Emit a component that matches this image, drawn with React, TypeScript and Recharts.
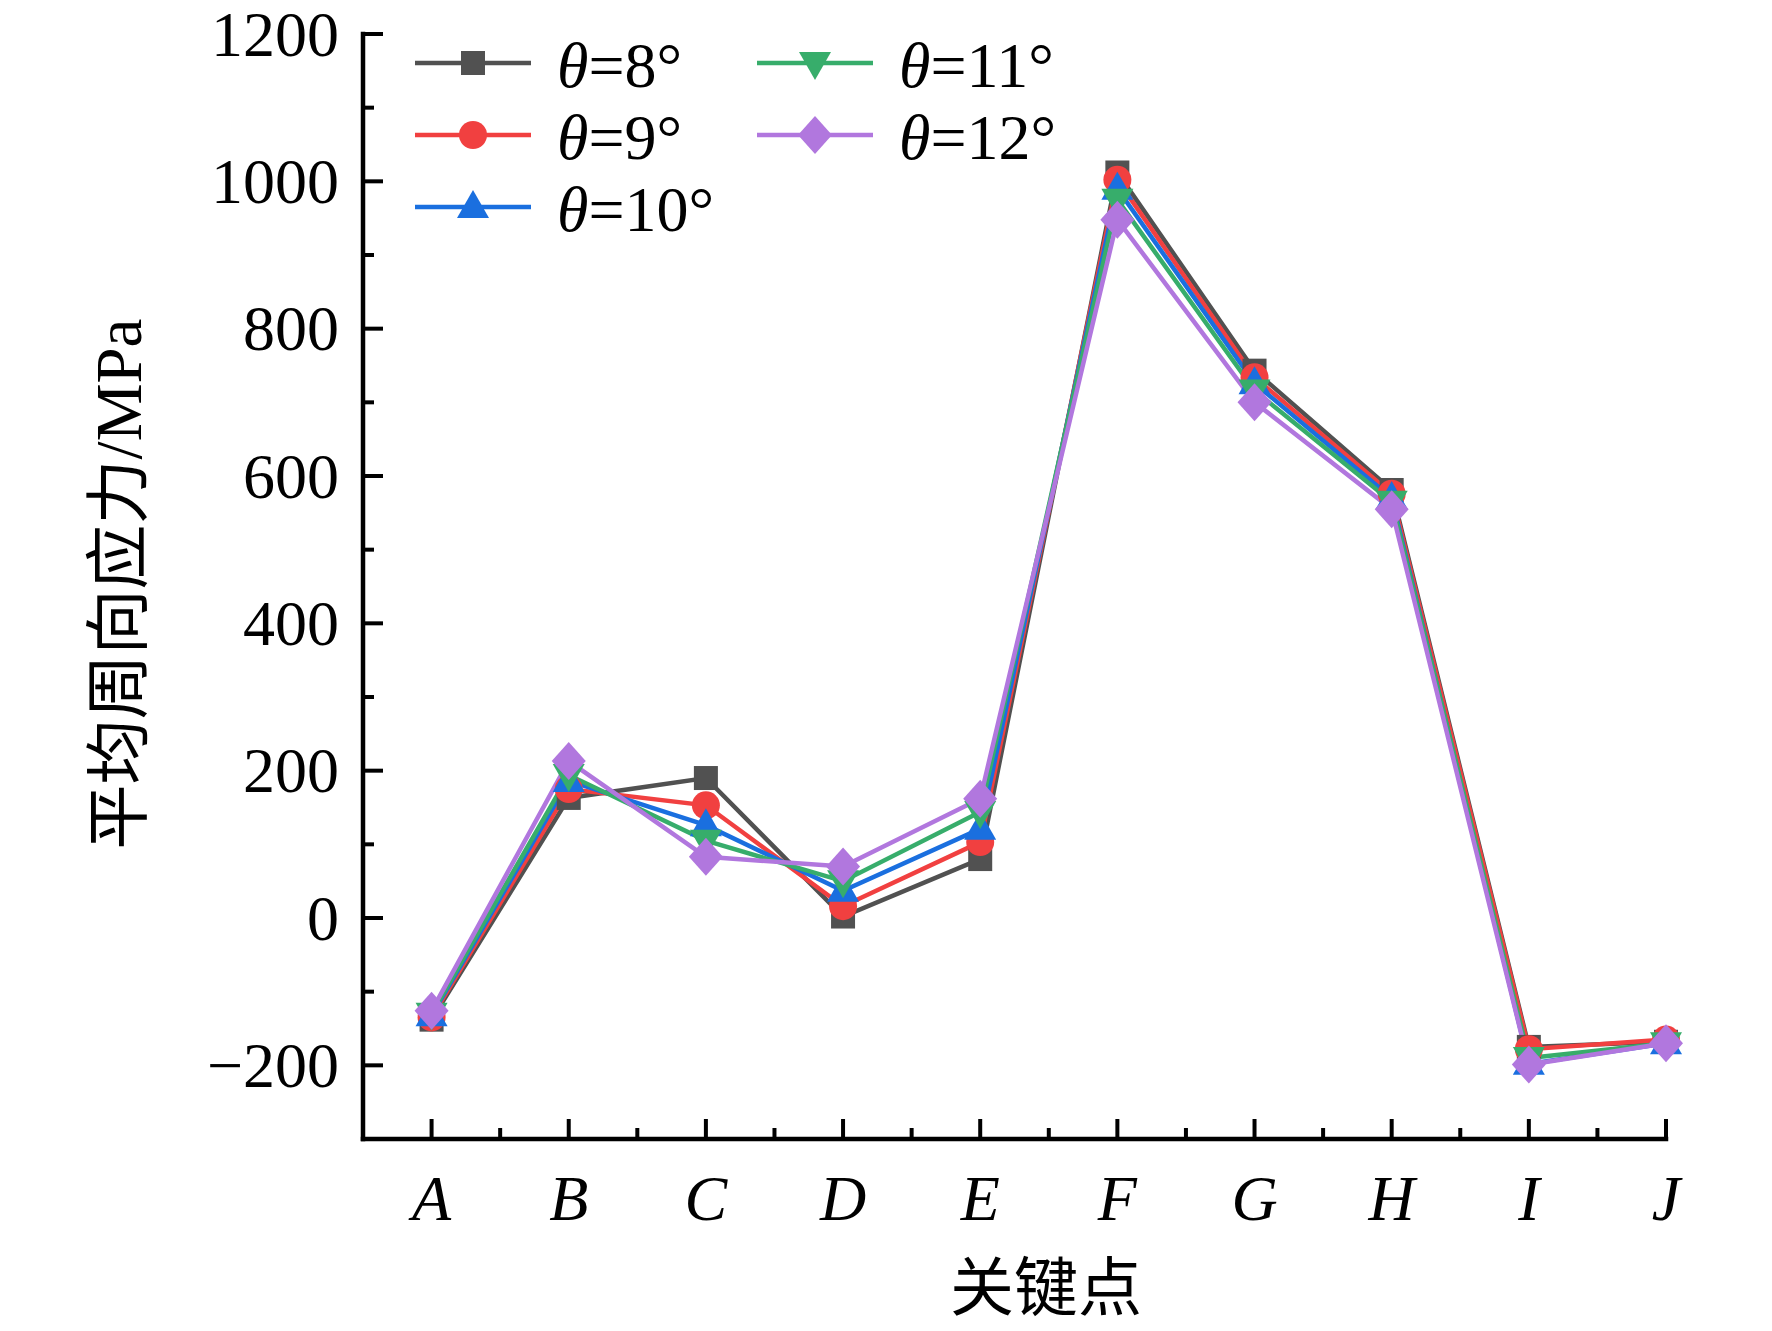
import React from 'react';
import { LineChart, Line, XAxis, YAxis, Legend } from 'recharts';

const categories = ['A', 'B', 'C', 'D', 'E', 'F', 'G', 'H', 'I', 'J'];

const theta8 = [-138, 163, 190, 2, 80, 1012, 743, 581, -175, -168];
const theta9 = [-135, 175, 153, 16, 103, 1002, 734, 576, -178, -165];
const theta10 = [-132, 186, 126, 37, 121, 990, 726, 570, -198, -170];
const theta11 = [-130, 194, 105, 50, 144, 975, 716, 565, -190, -170];
const theta12 = [-126, 213, 83, 70, 162, 948, 700, 555, -199, -170];

const seriesNames = ['8°', '9°', '10°', '11°', '12°'];
const seriesKeys = ['t8', 't9', 't10', 't11', 't12'];
const seriesColors = ['#515151', '#F14040', '#1A6FDF', '#37AD6B', '#B177DE'];
const seriesShapes = ['square', 'circle', 'triangle', 'triangleDown', 'diamond'];

const xTicks = [1, 1.5, 2, 2.5, 3, 3.5, 4, 4.5, 5, 5.5, 6, 6.5, 7, 7.5, 8, 8.5, 9, 9.5, 10];
const yTicks = [-200, -100, 0, 100, 200, 300, 400, 500, 600, 700, 800, 900, 1000, 1100, 1200];

const data = categories.map((c, i) => ({
  x: i + 1,
  name: c,
  t8: theta8[i],
  t9: theta9[i],
  t10: theta10[i],
  t11: theta11[i],
  t12: theta12[i],
}));

const serif = "'Liberation Serif', 'Times New Roman', 'Noto Sans CJK SC', serif";

function Marker({ shape, cx, cy, color }: { shape: string; cx: number; cy: number; color: string }) {
  switch (shape) {
    case 'square':
      return <rect x={cx - 12} y={cy - 12} width={24} height={24} fill={color} />;
    case 'circle':
      return <circle cx={cx} cy={cy} r={14} fill={color} />;
    case 'triangle':
      return <path d={`M${cx},${cy - 17}L${cx + 16},${cy + 11}L${cx - 16},${cy + 11}Z`} fill={color} />;
    case 'triangleDown':
      return <path d={`M${cx},${cy + 17}L${cx + 16},${cy - 11}L${cx - 16},${cy - 11}Z`} fill={color} />;
    default:
      return <path d={`M${cx},${cy - 19}L${cx + 17},${cy}L${cx},${cy + 19}L${cx - 17},${cy}Z`} fill={color} />;
  }
}

function XTick(props: any) {
  const { x, y, payload } = props;
  const v = payload.value;
  const major = Number.isInteger(v);
  return (
    <g>
      <line x1={x} x2={x} y1={y} y2={y - (major ? 20 : 11)} stroke="#000" strokeWidth={4} />
      {major && (
        <text x={x} y={y + 81} textAnchor="middle" fontSize={64} fontStyle="italic" fontFamily={serif} fill="#000">
          {categories[v - 1]}
        </text>
      )}
    </g>
  );
}

function YTick(props: any) {
  const { x, y, payload } = props;
  const v = payload.value;
  const major = v % 200 === 0;
  return (
    <g>
      <line x1={x} x2={x + (major ? 20 : 11)} y1={y} y2={y} stroke="#000" strokeWidth={4} />
      {major && (
        <text x={x - 24} y={y} dy="0.34em" textAnchor="end" fontSize={64} fontFamily={serif} fill="#000">
          {String(v).replace('-', '\u2212')}
        </text>
      )}
    </g>
  );
}

function XTitle() {
  return (
    <text x={1046} y={1288} textAnchor="middle" dominantBaseline="central" fontSize={64} fontFamily={serif} fill="#000">
      关键点
    </text>
  );
}

function YTitle() {
  return (
    <text
      x={119}
      y={584}
      transform="rotate(-90 119 584)"
      textAnchor="middle"
      dominantBaseline="central"
      fontSize={65}
      fontFamily={serif}
      fill="#000"
    >
      平均周向应力/MPa
    </text>
  );
}

function LegendBox() {
  return (
    <div
      style={{
        display: 'grid',
        gridTemplateRows: 'repeat(3, 72px)',
        gridTemplateColumns: '342px auto',
        gridAutoFlow: 'column',
        fontFamily: serif,
        fontSize: 64,
        color: '#000',
      }}
    >
      {seriesNames.map((n, i) => (
        <div key={n} style={{ display: 'flex', alignItems: 'center', height: 72 }}>
          <svg width={116} height={72} style={{ flex: 'none' }}>
            <line x1={0} x2={116} y1={33} y2={33} stroke={seriesColors[i]} strokeWidth={4.5} />
            <Marker shape={seriesShapes[i]} cx={58} cy={33} color={seriesColors[i]} />
          </svg>
          <span style={{ marginLeft: 26, lineHeight: '72px', whiteSpace: 'nowrap' }}>
            <i>θ</i>={n}
          </span>
        </div>
      ))}
    </div>
  );
}

export default function App() {
  return (
    <div style={{ position: 'absolute', left: 0, top: 0, width: 1772, height: 1331, background: '#fff' }}>
      <LineChart width={1772} height={1331} data={data} margin={{ top: 34, right: 106, bottom: 42, left: 243 }}>
        <XAxis
          dataKey="x"
          type="number"
          domain={[0.5, 10]}
          ticks={xTicks}
          interval={0}
          height={150}
          tickSize={0}
          tickMargin={0}
          tickLine={false}
          tick={<XTick />}
          axisLine={{ stroke: '#000', strokeWidth: 4.5, strokeLinecap: 'square' }}
          label={<XTitle />}
        />
        <YAxis
          type="number"
          domain={[-300, 1200]}
          ticks={yTicks}
          interval={0}
          width={120}
          tickSize={0}
          tickMargin={0}
          tickLine={false}
          tick={<YTick />}
          axisLine={{ stroke: '#000', strokeWidth: 4.5, strokeLinecap: 'square' }}
          label={<YTitle />}
        />
        <Legend
          layout="vertical"
          align="center"
          verticalAlign="middle"
          content={<LegendBox />}
          wrapperStyle={{ left: 415, top: 30, width: 'auto', height: 'auto' }}
        />
        {seriesKeys.map((k, i) => (
          <Line
            key={k}
            type="linear"
            dataKey={k}
            name={seriesNames[i]}
            stroke={seriesColors[i]}
            strokeWidth={4.5}
            isAnimationActive={false}
            dot={(p: any) => (
              <Marker key={`${k}-${p.index}`} shape={seriesShapes[i]} cx={p.cx} cy={p.cy} color={seriesColors[i]} />
            )}
            activeDot={false}
          />
        ))}
      </LineChart>
    </div>
  );
}
